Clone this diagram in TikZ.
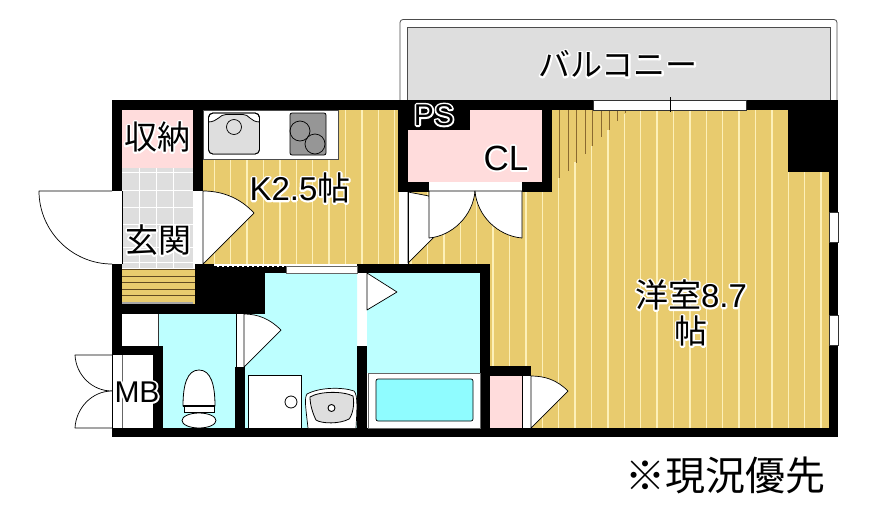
\documentclass[tikz,border=0pt]{standalone}
\usepackage{fontspec}
\setmainfont{Liberation Sans}
\newfontfamily\jp{Noto Sans CJK JP}
\newcommand{\halo}[1]{\leavevmode\rlap{\special{pdf:code q 2 Tr 3.5 w 1 1 1 rg 1 1 1 RG 1 j}#1\special{pdf:code Q}}#1}
\definecolor{wood}{HTML}{E8CB6E}
\definecolor{woodline}{HTML}{FDF0B8}
\definecolor{woodd}{HTML}{8A6A30}
\definecolor{pinkroom}{HTML}{FFDCDC}
\definecolor{cyanroom}{HTML}{BDFFFF}
\definecolor{tubwater}{HTML}{8FFCFF}
\definecolor{greyfloor}{HTML}{DEDEDE}
\definecolor{stovegrey}{HTML}{969696}
\tikzset{
 wall/.style={fill=black,draw=none},
 room/.style={draw=none},
 door/.style={fill=white,draw=black,line width=0.7pt,line join=round},
 fixture/.style={fill=white,draw=black,line width=0.8pt},
 label/.style={inner sep=0pt,text=black,align=center},
}
\begin{document}
\begin{tikzpicture}[x=1pt,y=-1pt]
\useasboundingbox (0,0) rectangle (879,517);
\fill[white] (0,0) rectangle (879,517);
% balcony
\draw[fill=white,draw=black!70,line width=0.8pt,rounded corners=3pt] (400,100) -- (400,19.5) -- (837,19.5) -- (837,100);
\fill[greyfloor,draw=black!70,line width=0.7pt] (407,100) -- (407,27) -- (830,27) -- (830,100) -- cycle;
% floor
\fill[wood] (203,110) rectangle (408,264) (398,192) rectangle (829,264) (552,110) rectangle (829,192) (490,264) rectangle (829,428);
\begin{scope}
\clip (203,110) rectangle (408,264) (398,192) rectangle (829,264) (552,110) rectangle (829,192) (490,264) rectangle (829,428);
\foreach \i in {0,...,37}{
 \pgfmathsetmacro{\xx}{214.3+16.4*\i}
 \pgfmathsetmacro{\yy}{\xx>552 ? max(110,178-0.985*(\xx-559)) : 110}
 \draw[woodline,line width=1.3pt] (\xx,\yy) -- (\xx,428);
}
\foreach \xa/\ya in {559/178,568/171,576/163,585/154,592/146,601/137,609/130,617/121,625/113}
 \draw[woodd,line width=0.9pt] (\xa,110) -- (\xa,\ya);
\end{scope}
% rooms
\fill[pinkroom] (122,110) rectangle (193,168);
\fill[greyfloor] (122,168) rectangle (193,268);
\foreach \xa in {139,156,173} \draw[white,line width=0.8pt] (\xa,168) -- (\xa,268);
\foreach \ya in {172,190,207,224,247,262} \draw[white,line width=0.8pt] (122,\ya) -- (193,\ya);
\fill[pinkroom] (408,110) rectangle (542,182);
\fill[pinkroom] (490,376) rectangle (522,428);
\fill[cyanroom] (158,314) rectangle (236,428);
\fill[cyanroom] (265,273) rectangle (357,428) (244,314) rectangle (265,428);
\fill[cyanroom] (367,273) rectangle (480,373);
\fill[white] (122,314) rectangle (158,346);
\fill[white] (112,355) rectangle (153,428);
\draw[black!60,line width=0.8pt] (122,355) -- (122,428);
\draw[black!80,line width=0.6pt] (158,314) -- (158,346);
% stairs
\fill[wood] (122,269) rectangle (195,304);
\foreach \ya in {269,276,282.5,289,295.5} \draw[woodd!70!black,line width=1pt] (122,\ya) -- (195,\ya);
\fill[black!35] (122,302) rectangle (193,304);
% walls
\fill[wall] (112,100) rectangle (838,110);
\fill[wall] (112,100) rectangle (122,191);
\fill[wall] (193,100) rectangle (203,191);
\fill[wall] (112,264) rectangle (122,355);
\fill[wall] (112,428) rectangle (838,437);
\fill[wall] (195,264) rectangle (265,314);
\fill[wall] (112,304) rectangle (265,314);
\fill[wall] (112,346) rectangle (163,355);
\fill[wall] (153,346) rectangle (163,437);
\fill[wall] (235,367) rectangle (245,437);
\fill[wall] (357,264) rectangle (490,273);
\fill[wall] (357,346) rectangle (367,437);
\fill[wall] (480,264) rectangle (490,437);
\fill[wall] (490,366) rectangle (531,376);
\fill[wall] (398,100) rectangle (408,192);
\fill[wall] (398,182) rectangle (552,192);
\fill[wall] (542,100) rectangle (552,192);
\fill[wall] (408,110) rectangle (470,130);
\fill[wall] (788,100) rectangle (838,172);
\fill[wall] (829,172) rectangle (838,437);
% strip beside the kitchen
\fill[white] (214,264) rectangle (357,267);
\draw[black,line width=0.8pt,densely dashed] (214,266) -- (286,266);
\fill[wall] (265,267) rectangle (286,273);
\fill[white,draw=black!60,line width=0.5pt] (286,266) rectangle (357,273);
% windows and openings
\draw[fill=white,draw=black!80,line width=0.6pt] (593,100) rectangle (746,110);
\draw[black,line width=0.7pt] (670,97) -- (670,112);
\draw[fill=white,draw=black!80,line width=0.5pt] (829,212) rectangle (838,242);
\draw[fill=white,draw=black!80,line width=0.5pt] (829,315) rectangle (838,345);
\fill[white] (429,182) rectangle (522,191);
% entrance door
\fill[white] (112,191) rectangle (122,264);
\draw[black,line width=0.6pt] (122,191) -- (122,264);
\draw[door] (112,264) .. controls (72,264) and (39,231) .. (39,191) -- (112,191);
% kitchen door
\fill[white] (193,191) rectangle (203,264);
\draw[door] (203,191) .. controls (224,191) and (241,199) .. (254,213) -- (203,264) -- cycle;
% toilet door
\fill[white] (236,314) rectangle (244,367);
\draw[door] (244,314) .. controls (258,314) and (270,319) .. (281,330) -- (244,367) -- cycle;
\draw[black,line width=0.5pt] (236,314) -- (236,367);
% wash door
\fill[white] (358,273) rectangle (367,346);
\draw[door] (367,273) -- (397,292) -- (367,310) -- cycle;
% closet door by bedroom
\fill[white] (522,376) rectangle (531,428);
\draw[black,line width=0.6pt] (522,376) -- (522,428);
\draw[door] (531,376) .. controls (545,376) and (557,380) .. (568,391) -- (531,428) -- cycle;
% bedroom door
\fill[white] (399,192) rectangle (408,264);
\draw[door] (408,192) -- (429,196) -- (434,237) -- (408,263) -- cycle;
\draw[black,line width=0.7pt] (408,192) -- (408,264);
% closet doors
\draw[door] (429,191) -- (429,238) .. controls (452,236) and (473,216) .. (475,191) -- cycle;
\draw[door] (522,191) -- (522,238) .. controls (498,236) and (477,216) .. (475,191) -- cycle;
% MB doors
\draw[door] (112,355) -- (75,355) .. controls (76,375) and (92,391) .. (112,391);
\draw[door] (112,391) .. controls (92,391) and (76,408) .. (75,428) -- (112,428);
\draw[black,line width=0.7pt] (112,355) -- (112,428);
% kitchen counter
\fill[fixture,draw=black!70] (203,110) rectangle (338,159);
\draw[fill=white,draw=black,line width=0.9pt,rounded corners=4.5pt] (208.5,113) rectangle (259.5,154);
\begin{scope}
\clip[rounded corners=4.5pt] (208.5,113) rectangle (259.5,154);
\draw[fill=greyfloor,draw=black,line width=0.8pt] (208,122) .. controls (218,122) and (220,114) .. (226,114.5) -- (243,114.5) .. controls (249,114) and (250,122) .. (260,122) -- (260,155) -- (208,155) -- cycle;
\end{scope}
\draw[black,line width=0.9pt,rounded corners=4.5pt] (208.5,113) rectangle (259.5,154);
\draw[fill=greyfloor,draw=black,line width=0.7pt] (234,127) circle[radius=7.5];
\draw[fill=stovegrey,draw=black,line width=0.8pt,rounded corners=2pt] (290,113) rectangle (326,155);
\draw[black,line width=0.7pt] (300,131) circle[radius=10];
\draw[black,line width=0.7pt] (315,144) circle[radius=10];
% toilet
\draw[fixture] (183,406) .. controls (183,385) and (187,370) .. (199,370) .. controls (211,370) and (215,385) .. (215,406) -- cycle;
\draw[fill=white,draw=black,line width=0.8pt] (184,406) rectangle (214,412);
\draw[black,line width=1.6pt] (183,406) -- (215,406);
\draw[fixture] (199,420.5) ellipse[x radius=17,y radius=7.5];
% washer pan
\draw[fixture] (248,428) -- (248,375) -- (301,375) -- (301,428);
\draw[fixture] (291,402) circle[radius=6];
% wash basin
\draw[fill=white,draw=black,line width=0.7pt] (308,428) .. controls (306,410) and (304,398) .. (307,394) .. controls (320,387) and (343,387) .. (354,391) .. controls (358,395) and (357,410) .. (356,428);
\draw[fill=greyfloor,draw=black,line width=0.8pt] (310,397) .. controls (320,391) and (343,391) .. (353,396) .. controls (355,405) and (352,416) .. (349,419) .. controls (340,424) and (322,424) .. (316,420) .. controls (313,414) and (310,405) .. (310,397) -- cycle;
\draw[fill=white,draw=black,line width=0.9pt] (331.5,408) circle[radius=3.5];
% bath
\fill[white,draw=black!60,line width=0.6pt] (368,373) rectangle (480,428);
\draw[fill=tubwater,draw=black,line width=0.7pt,rounded corners=2pt] (376,379) rectangle (473,421);
% labels
\node[label,font=\jp\fontsize{32}{36}\selectfont] (balcony) at (618,64) {\halo{バルコニー}};
\node[label,font=\jp\fontsize{33}{36}\selectfont] (storage) at (157,137) {\halo{収納}};
\node[label,font=\jp\fontsize{33}{36}\selectfont] (entry) at (158,240) {\halo{玄関}};
\node[label,font=\fontsize{33}{36}\selectfont] (kitchen) at (300,188) {\halo{K2.5{\jp 帖}}};
\node[label,font=\fontsize{35}{38}\selectfont] (cl) at (506,158) {\halo{CL}};
\node[label,font=\fontsize{30}{32}\selectfont] (ps) at (434,115) {\halo{PS}};
\node[label,font=\fontsize{30}{32}\selectfont] (mb) at (137,392) {\halo{MB}};
\node[label,font=\fontsize{33}{36}\selectfont] (bedroom) at (691,295) {\halo{{\jp 洋室}8.7}};
\node[label,font=\jp\fontsize{33}{36}\selectfont] (bedroomb) at (691,331) {\halo{帖}};
\node[label,font=\jp\fontsize{40}{44}\selectfont] (note) at (725,475) {※現況優先};
\end{tikzpicture}
\end{document}
